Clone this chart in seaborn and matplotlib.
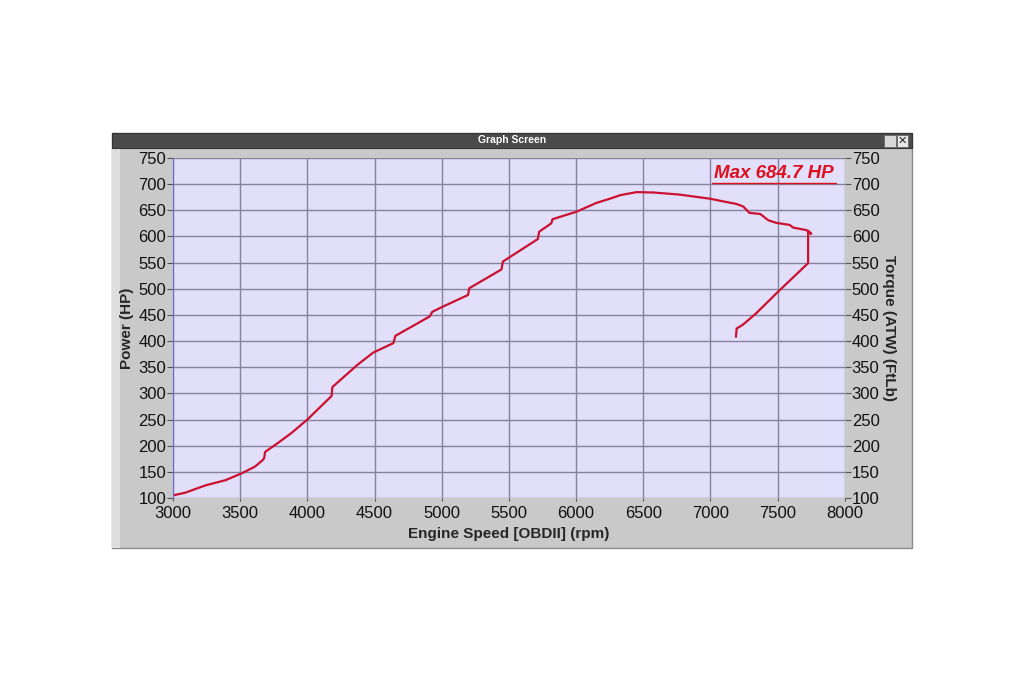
import matplotlib
matplotlib.use("Agg")
import matplotlib.pyplot as plt
from matplotlib.patches import Rectangle
import seaborn as sns
import pandas as pd

# dyno pull (rpm vs HP), in drawing order
rpm = [3000, 3090, 3240, 3390, 3510, 3610, 3665, 3678, 3685, 3780, 3880, 4000,
       4180, 4186, 4370, 4490, 4640, 4655, 4910, 4930, 5010, 5195, 5205, 5445,
       5455, 5715, 5725, 5815, 5825, 6000, 6150, 6250, 6330, 6450, 6575, 6770,
       7000, 7095, 7195, 7245, 7290, 7370, 7430, 7490, 7590, 7615, 7715, 7750,
       7727, 7727, 7490, 7340, 7240, 7195, 7190]
hp = [105, 110, 124, 134, 147, 160, 172, 176, 188, 205, 224, 250,
      295, 312, 354, 378, 396, 410, 447, 456, 466, 488, 501, 537,
      552, 595, 609, 625, 633, 647, 664, 672, 679, 684.7, 684, 680,
      672, 667, 662, 657, 645, 643, 631, 626, 622, 617, 612, 605,
      611, 549, 491, 453, 431, 424, 408]

x_ticks = list(range(3000, 8001, 500))
y_ticks = list(range(100, 751, 50))
max_label = "Max 684.7 HP"

df = pd.DataFrame({"rpm": rpm, "hp": hp, "step": range(len(rpm))})

sns.set_style("white")
plt.rcParams["font.family"] = ["Liberation Sans", "DejaVu Sans"]

fig = plt.figure(figsize=(10.24, 6.83), dpi=100)
fig.patch.set_facecolor("white")

# --- window frame (behind the axes) ---
fig.patches.append(Rectangle((0.1094, 0.1977), 0.7812, 0.6076, transform=fig.transFigure,
                             facecolor="#c9c9c9", edgecolor="#8a8a8a", lw=1.0, zorder=-3))
fig.patches.append(Rectangle((0.1094, 0.1977), 0.008, 0.585, transform=fig.transFigure,
                             facecolor="#dedede", edgecolor="none", zorder=-2))
fig.patches.append(Rectangle((0.1094, 0.7833), 0.7812, 0.022, transform=fig.transFigure,
                             facecolor="#4b4b4b", edgecolor="#333333", lw=0.8, zorder=-2))
fig.text(0.5, 0.7945, "Graph Screen", color="white", fontsize=7.5, fontweight="bold",
         ha="center", va="center")
fig.patches.append(Rectangle((0.8635, 0.7855), 0.0115, 0.0175, transform=fig.transFigure,
                             facecolor="#d8d8d8", edgecolor="#666666", lw=0.6, zorder=-1))
fig.patches.append(Rectangle((0.8755, 0.7855), 0.0115, 0.0175, transform=fig.transFigure,
                             facecolor="#e6e6e6", edgecolor="#666666", lw=0.6, zorder=-1))
fig.text(0.8813, 0.7942, "✕", fontsize=8, fontweight="bold", ha="center", va="center",
         family=["DejaVu Sans"])

# --- plot area ---
ax = fig.add_axes([0.169, 0.2709, 0.656, 0.4978])
ax.set_facecolor("#e1dff9")

sns.lineplot(data=df, x="rpm", y="hp", sort=False, estimator=None, ax=ax,
             color="#cc1030", lw=1.6)

ax.set_xlim(3000, 8000)
ax.set_ylim(100, 750)
ax.set_xticks(x_ticks)
ax.set_yticks(y_ticks)
ax.grid(True, color="#83839e", lw=1.0)
ax.set_axisbelow(True)
for s in ax.spines.values():
    s.set_visible(False)
ax.spines["left"].set_visible(True)
ax.spines["left"].set_color("#6a6acc")
ax.spines["left"].set_linewidth(0.8)

ax.tick_params(axis="y", left=True, length=4, width=0.8, color="#555555",
               labelsize=12, pad=1, labelcolor="#111111")
ax.tick_params(axis="x", bottom=True, length=2, width=0.8, color="#555555",
               labelsize=12, pad=4, labelcolor="#111111")

ax.set_xlabel("Engine Speed [OBDII] (rpm)", fontsize=11, fontweight="bold", labelpad=4)
ax.set_ylabel("Power (HP)", fontsize=11, fontweight="bold", labelpad=3)

ax2 = ax.twinx()
ax2.set_ylim(100, 750)
ax2.set_yticks(y_ticks)
for s in ax2.spines.values():
    s.set_visible(False)
ax2.tick_params(axis="y", right=True, length=4, width=0.8, color="#555555",
                labelsize=12, pad=1, labelcolor="#111111")
ax2.set_ylabel("Torque (ATW) (FtLb)", fontsize=11, fontweight="bold",
               rotation=270, labelpad=12)

# max annotation, underlined
ax.text(0.895, 0.953, max_label, transform=ax.transAxes, color="#dd1020",
        fontsize=13.5, fontstyle="italic", fontweight="bold", ha="center", va="center")
ax.plot([0.803, 0.987], [0.927, 0.927], transform=ax.transAxes, color="#dd1020", lw=1.0)

fig.savefig("out.png", dpi=100, facecolor="white")
